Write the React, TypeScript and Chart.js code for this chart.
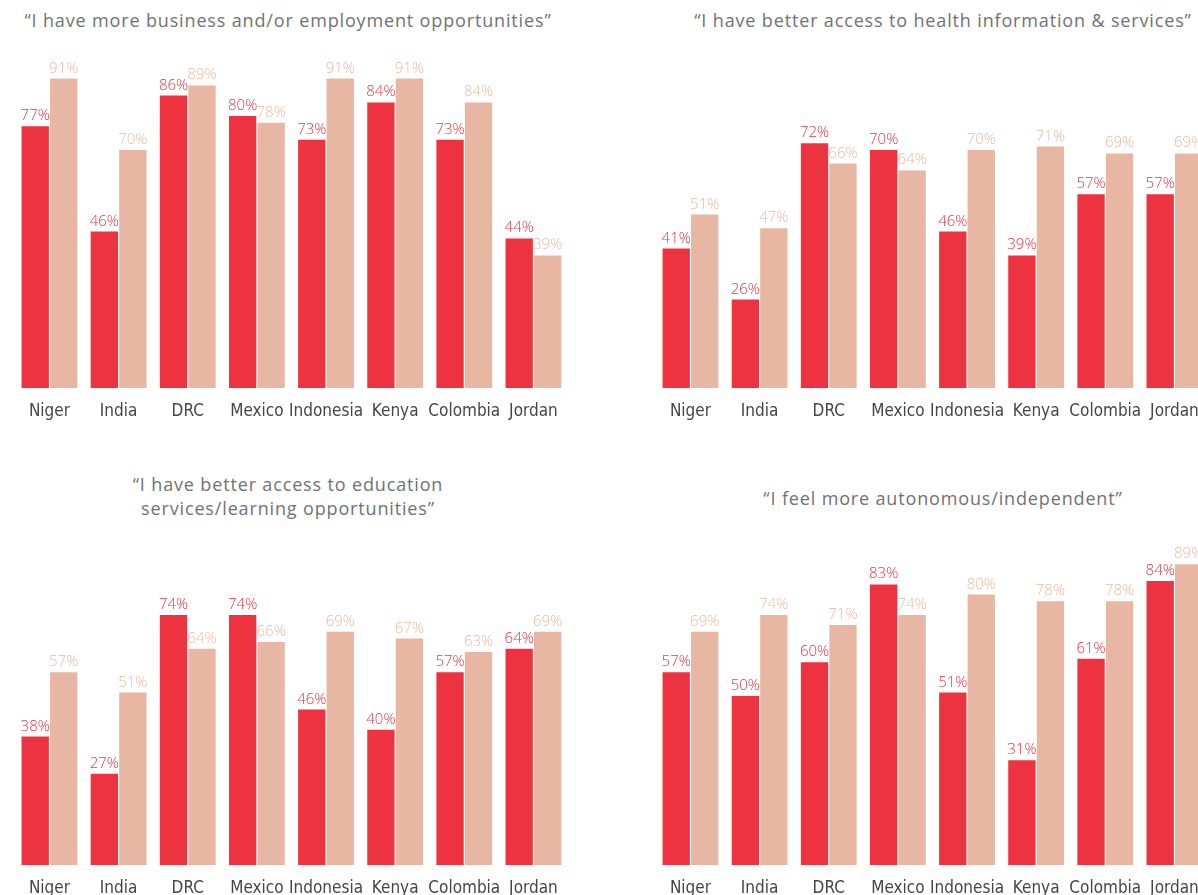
import React, { useEffect, useRef } from "react";
import { Chart, registerables } from "chart.js";

Chart.register(...registerables);

const categories = ["Niger", "India", "DRC", "Mexico", "Indonesia", "Kenya", "Colombia", "Jordan"];

const businessRed = [77, 46, 86, 80, 73, 84, 73, 44];
const businessBeige = [91, 70, 89, 78, 91, 91, 84, 39];

const healthRed = [41, 26, 72, 70, 46, 39, 57, 57];
const healthBeige = [51, 47, 66, 64, 70, 71, 69, 69];

const educationRed = [38, 27, 74, 74, 46, 40, 57, 64];
const educationBeige = [57, 51, 64, 66, 69, 67, 63, 69];

const autonomyRed = [57, 50, 60, 83, 51, 31, 61, 84];
const autonomyBeige = [69, 74, 71, 74, 80, 78, 78, 89];

const RED = "#EE3340";
const BEIGE = "#E8B7A3";
const RED_LABEL = "#EE3340";
const BEIGE_LABEL = "#EDB9A4";

const valueLabels = {
  id: "valueLabels",
  afterDatasetsDraw(chart: any) {
    const ctx = chart.ctx;
    chart.data.datasets.forEach((ds: any, i: number) => {
      const meta = chart.getDatasetMeta(i);
      meta.data.forEach((bar: any, j: number) => {
        ctx.save();
        ctx.font = "300 15px 'Open Sans', sans-serif";
        ctx.fillStyle = ds.labelColor;
        ctx.textAlign = "center";
        ctx.textBaseline = "alphabetic";
        ctx.fillText(ds.data[j] + "%", bar.x, bar.y - 6);
        ctx.restore();
      });
    });
  },
};

type PanelProps = {
  red: number[];
  beige: number[];
  left: number;
  top: number;
  width: number;
  height: number;
  padLeft: number;
  padRight: number;
  padTop: number;
};

function Panel({ red, beige, left, top, width, height, padLeft, padRight, padTop }: PanelProps) {
  const ref = useRef<HTMLCanvasElement | null>(null);
  useEffect(() => {
    if (!ref.current) return;
    const chart = new Chart(ref.current, {
      type: "bar",
      data: {
        labels: categories,
        datasets: [
          { data: red, backgroundColor: RED, labelColor: RED_LABEL, barPercentage: 0.96, categoryPercentage: 0.824 } as any,
          { data: beige, backgroundColor: BEIGE, labelColor: BEIGE_LABEL, barPercentage: 0.96, categoryPercentage: 0.824 } as any,
        ],
      },
      options: {
        animation: false,
        responsive: false,
        devicePixelRatio: 1,
        layout: { padding: { left: padLeft, right: padRight, top: padTop, bottom: 0 } },
        plugins: { legend: { display: false }, tooltip: { enabled: false }, title: { display: false } },
        scales: {
          x: {
            grid: { display: false, drawTicks: false },
            border: { display: false },
            ticks: {
              color: "#454545",
              font: { family: "'DejaVu Sans', sans-serif", size: 17, weight: "condensed" as any },
              padding: 13,
              autoSkip: false,
              maxRotation: 0,
            },
            afterFit: (scale: any) => {
              scale.height = 40;
            },
          },
          y: { display: false, min: 0, max: 100 },
        },
      },
      plugins: [valueLabels],
    });
    return () => chart.destroy();
  }, []);
  return (
    <canvas
      ref={ref}
      width={width}
      height={height}
      style={{ position: "absolute", left, top, width, height }}
    />
  );
}

const titleStyle: React.CSSProperties = {
  position: "absolute",
  width: 700,
  textAlign: "center",
  fontFamily: "'Open Sans', sans-serif",
  fontSize: 18,
  letterSpacing: "0.85px",
  color: "#707276",
  lineHeight: "24px",
  whiteSpace: "nowrap",
};

export default function App() {
  return (
    <div style={{ position: "fixed", left: 0, top: 0, width: 1198, height: 895, overflow: "hidden", background: "#fff" }}>
      <div style={{ ...titleStyle, left: 288 - 350, top: 8 }}>“I have more business and/or employment opportunities”</div>
      <div style={{ ...titleStyle, left: 943 - 350, top: 8 }}>“I have better access to health information &amp; services”</div>
      <div style={{ ...titleStyle, left: 288 - 350, top: 472 }}>
        “I have better access to education
        <br />
        services/learning opportunities”
      </div>
      <div style={{ ...titleStyle, left: 943 - 350, top: 486 }}>“I feel more autonomous/independent”</div>
      <Panel red={businessRed} beige={businessBeige} left={0} top={0} width={600} height={428} padLeft={14.9} padRight={32} padTop={48} />
      <Panel red={healthRed} beige={healthBeige} left={620} top={0} width={600} height={428} padLeft={35.9} padRight={11} padTop={48} />
      <Panel red={educationRed} beige={educationBeige} left={0} top={470} width={600} height={435} padLeft={14.9} padRight={32} padTop={57} />
      <Panel red={autonomyRed} beige={autonomyBeige} left={620} top={470} width={600} height={435} padLeft={35.9} padRight={11} padTop={57} />
    </div>
  );
}
